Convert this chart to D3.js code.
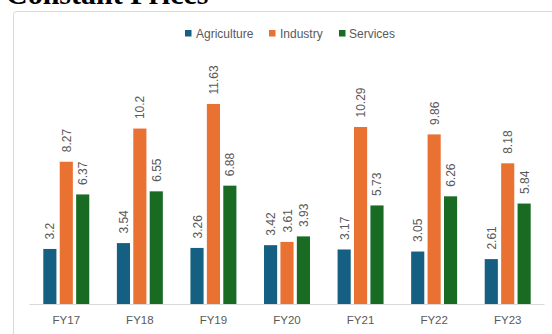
<!DOCTYPE html>
<html>
<head>
<meta charset="utf-8">
<script src="https://cdn.jsdelivr.net/npm/d3@7"></script>
<style>
  html, body { margin: 0; padding: 0; background: #ffffff; }
  svg { display: block; }
</style>
</head>
<body>
<svg id="chart" width="552" height="334"></svg>
<script>
// Growth rates by sector, constant prices
const categories = ["FY17", "FY18", "FY19", "FY20", "FY21", "FY22", "FY23"];
const seriesNames = ["Agriculture", "Industry", "Services"];
const agriculture = [3.2, 3.54, 3.26, 3.42, 3.17, 3.05, 2.61];
const industry = [8.27, 10.2, 11.63, 3.61, 10.29, 9.86, 8.18];
const services = [6.37, 6.55, 6.88, 3.93, 5.73, 6.26, 5.84];
const seriesColors = ["#156082", "#E97132", "#196B24"];

const seriesValues = [agriculture, industry, services];

const svg = d3.select("#chart");
const W = 552, H = 334;
const baseY = 304;

// Title (sits above the chart frame)
svg.append("text")
  .attr("x", 6)
  .attr("y", 4)
  .attr("font-family", "'Liberation Serif', 'DejaVu Serif', serif")
  .attr("font-weight", "bold")
  .attr("font-size", 30)
  .attr("fill", "#000")
  .text("Constant Prices");

// Chart frame
svg.append("rect")
  .attr("x", 13.5).attr("y", 11.5)
  .attr("width", 600).attr("height", 400)
  .attr("rx", 3)
  .attr("fill", "#fff")
  .attr("stroke", "#d9d9d9")
  .attr("stroke-width", 1);

const x = d3.scaleBand().domain(categories).range([29.5, 544.5]).paddingInner(0).paddingOuter(0);
const bw = x.bandwidth();
const xs = d3.scaleBand().domain(seriesNames).range([13.8, bw - 13.8]).paddingInner(0.2);
const y = d3.scaleLinear().domain([0, 14]).range([baseY, baseY - 14 * 17.2]);

// Bars
const groups = svg.append("g").selectAll("g")
  .data(categories)
  .join("g")
  .attr("transform", d => `translate(${x(d)},0)`);

const rows = (c, i) => seriesNames.map((s, k) => ({ cat: c, series: s, k, value: seriesValues[k][i] }));

groups.selectAll("rect")
  .data((c, i) => rows(c, i))
  .join("rect")
  .attr("x", d => xs(d.series))
  .attr("y", d => y(d.value))
  .attr("width", xs.bandwidth())
  .attr("height", d => baseY - y(d.value))
  .attr("fill", d => seriesColors[d.k]);

// Value labels, rotated
groups.selectAll("text.val")
  .data((c, i) => rows(c, i))
  .join("text")
  .attr("class", "val")
  .attr("transform", d => `translate(${xs(d.series) + xs.bandwidth() / 2 + 0.5},${y(d.value) - 9.5}) rotate(-90)`)
  .attr("dominant-baseline", "central")
  .attr("text-anchor", "start")
  .attr("font-family", "'Liberation Sans', Arial, sans-serif")
  .attr("font-size", 12)
  .attr("fill", "#595959")
  .text(d => d.value);

// Category axis
const axis = svg.append("g")
  .attr("transform", `translate(0,${baseY})`)
  .call(d3.axisBottom(x).tickSize(0).tickPadding(12));
axis.select(".domain").attr("stroke", "#d9d9d9").attr("d", `M${x.range()[0]},0.5H${x.range()[1]}`);
axis.selectAll("text")
  .attr("font-family", "'Liberation Sans', Arial, sans-serif")
  .attr("font-size", 11.5)
  .attr("fill", "#595959");

// Legend
const legendItems = [
  { name: seriesNames[0], sx: 185, tx: 196 },
  { name: seriesNames[1], sx: 269, tx: 280 },
  { name: seriesNames[2], sx: 339, tx: 349 }
];
const legend = svg.append("g");
legendItems.forEach((it, k) => {
  legend.append("rect")
    .attr("x", it.sx).attr("y", 30)
    .attr("width", 6.5).attr("height", 6.5)
    .attr("fill", seriesColors[k]);
  legend.append("text")
    .attr("x", it.tx).attr("y", 33.5)
    .attr("dominant-baseline", "central")
    .attr("font-family", "'Liberation Sans', Arial, sans-serif")
    .attr("font-size", 12)
    .attr("fill", "#595959")
    .text(it.name);
});
</script>
</body>
</html>
